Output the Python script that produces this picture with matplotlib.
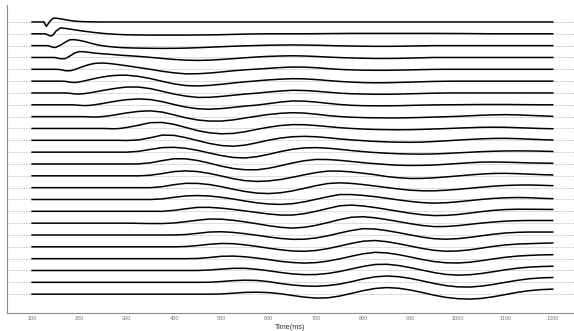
import matplotlib
matplotlib.use("Agg")
import matplotlib.pyplot as plt
import numpy as np

plt.rcParams['font.family'] = ['Liberation Sans', 'DejaVu Sans']

# sample times (ms), finer at the start where the top traces change fast
time_ms = [100, 110, 120, 125, 130, 135, 140, 145, 150, 160, 170, 180,
           190, 200, 210, 220, 230, 240, 250, 260, 270, 280, 290, 300,
           325, 350, 375, 400, 425, 450, 475, 500, 525, 550, 575, 600,
           625, 650, 675, 700, 725, 750, 775, 800, 825, 850, 875, 900,
           925, 950, 975, 1000, 1025, 1050, 1075, 1100, 1125, 1150, 1175, 1200]

# one trace per channel, top to bottom (amplitude, arbitrary units)
ch01 = [0, 0, 0, 0, -4.5, -1.2, 2.0, 3.8, 3.9, 3.2, 2.3, 1.5,
        0.8, 0.5, 0.3, 0.2, 0.1, 0, 0, 0, 0, 0, 0, 0,
        0, 0, 0, 0, 0, 0, 0, 0, 0, 0, 0, 0,
        0, 0, 0, 0, 0, 0, 0, 0, 0, 0, 0, 0,
        0, 0, 0, 0, 0, 0, 0, 0, 0, 0, 0, 0]
ch02 = [0, 0, 0, 0, -0.3, -1.5, -2.3, -0.8, 2.5, 6.0, 5.5, 4.8,
        4.0, 3.3, 2.6, 2.0, 1.4, 0.9, 0.4, 0.0, -0.3, -0.6, -0.8, -1.0,
        -1.2, -1.3, -1.3, -1.3, -1.3, -1.2, -1.1, -0.9, -0.6, -0.3, -0.1, 0,
        0, 0, 0, 0.1, 0.2, 0.3, 0.4, 0.4, 0.4, 0.4, 0.4, 0.4,
        0.4, 0.4, 0.3, 0.3, 0.2, 0.1, 0, 0, 0, 0, 0, 0]
ch03 = [0, 0, 0, 0, 0, -0.2, -1.0, -1.8, -1.8, 0.5, 3.5, 6.0,
        6.0, 5.3, 4.3, 3.0, 1.7, 0.6, -0.2, -0.8, -1.3, -1.7, -2.0, -2.2,
        -2.5, -2.7, -2.8, -2.7, -2.5, -2.1, -1.6, -1.1, -0.6, -0.2, 0.1, 0.4,
        0.6, 0.7, 0.6, 0.4, 0.1, -0.2, -0.4, -0.6, -0.7, -0.7, -0.6, -0.4,
        -0.2, 0, 0, 0, 0, 0, 0, 0, 0, 0, 0, 0]
ch04 = [0, 0, 0, 0, 0, 0, 0, 0, -0.2, -1.3, -1.2, 1.5,
        4.5, 6.0, 5.8, 5.2, 4.6, 4.1, 3.7, 3.4, 3.0, 2.6, 2.2, 1.9,
        1.1, 0.1, -1.0, -2.0, -2.7, -3.0, -2.7, -2.0, -1.2, -0.3, 0.5, 1.1,
        1.5, 1.7, 1.5, 1.0, 0.4, -0.1, -0.5, -0.8, -1.0, -1.0, -0.9, -0.6,
        -0.3, 0, 0, 0, 0, 0, 0, 0, 0, 0, 0, 0]
ch05 = [0, 0, 0, 0, 0, 0, 0, 0, 0, -0.3, -1.4, -1.5,
        -0.3, 1.5, 3.2, 4.7, 5.8, 6.3, 6.3, 6.0, 5.5, 4.9, 4.2, 3.6,
        1.8, 0, -2.0, -3.6, -4.6, -4.5, -3.8, -2.7, -1.5, -0.5, 0.2, 1.0,
        1.8, 2.3, 2.2, 1.6, 0.7, -0.1, -0.6, -0.9, -1.0, -1.0, -0.8, -0.6,
        -0.3, -0.1, 0, 0, 0, 0, 0, 0, 0, 0, 0, 0]
ch06 = [0, 0, 0, 0, 0, 0, 0, 0, 0, 0, -0.2, -1.0,
        -1.4, -0.8, 0.2, 1.3, 2.4, 3.4, 4.3, 5.0, 5.6, 5.9, 6.0, 6.0,
        4.8, 2.6, -0.2, -2.8, -4.5, -4.9, -4.3, -3.2, -1.9, -0.7, 0.3, 1.3,
        2.0, 2.5, 2.3, 1.6, 0.6, -0.3, -1.0, -1.5, -1.7, -1.6, -1.3, -1.0,
        -0.6, -0.3, -0.1, 0, 0, 0, 0, 0, 0, 0, 0, 0]
ch07 = [0, 0, 0, 0, 0, 0, 0, 0, 0, 0, 0, -0.3,
        -1.0, -1.1, -0.7, 0, 0.8, 1.7, 2.6, 3.4, 4.2, 4.9, 5.5, 6.0,
        6.0, 4.4, 1.7, -1.1, -3.2, -4.5, -4.4, -3.5, -2.3, -1.1, -0.2, 1.0,
        2.0, 2.7, 2.5, 1.8, 0.8, -0.2, -0.8, -1.1, -1.3, -1.3, -1.1, -0.8,
        -0.5, -0.2, 0, 0, 0, 0, 0, 0, 0, 0, 0, 0]
ch08 = [0, 0, 0, 0, 0, 0, 0, 0, 0, 0, 0, 0,
        -0.1, -0.5, -0.8, -0.6, -0.1, 0.6, 1.4, 2.3, 3.1, 3.9, 4.6, 5.2,
        6.0, 5.3, 3.2, 0.3, -2.3, -4.0, -4.5, -3.8, -2.6, -1.3, -0.3, 1.2,
        2.8, 3.9, 3.7, 2.8, 1.5, 0.3, -0.5, -0.9, -1.0, -1.0, -0.9, -0.6,
        -0.3, -0.1, 0, 0.1, 0.2, 0.3, 0.3, 0.3, 0.2, 0.1, 0, 0]
ch09 = [0, 0, 0, 0, 0, 0, 0, 0, 0, 0, 0, 0,
        0, 0, 0, -0.2, -0.4, -0.3, 0.1, 0.7, 1.4, 2.2, 3.0, 3.8,
        5.3, 5.9, 4.6, 1.8, -1.2, -3.4, -4.5, -4.5, -3.3, -1.4, 0.5, 2.2,
        3.4, 4.0, 3.6, 2.5, 1.1, 0.1, -0.6, -1.0, -1.2, -1.3, -1.3, -1.1,
        -0.8, -0.4, -0.1, 0.3, 0.9, 1.4, 1.8, 2.0, 1.8, 1.3, 0.8, 0.3]
ch10 = [0, 0, 0, 0, 0, 0, 0, 0, 0, 0, 0, 0,
        0, 0, 0, 0, 0, 0, 0, -0.1, -0.3, -0.2, 0.3, 1.0,
        3.3, 5.9, 6.1, 4.2, 1.0, -2.2, -4.4, -5.4, -5.0, -3.3, -0.9, 1.3,
        3.0, 3.9, 3.8, 3.0, 1.9, 0.8, 0, -0.6, -1.0, -1.2, -1.3, -1.2,
        -0.9, -0.5, -0.1, 0.4, 0.8, 1.2, 1.3, 1.2, 0.8, 0.4, 0, -0.3]
ch11 = [0, 0, 0, 0, 0, 0, 0, 0, 0, 0, 0, 0,
        0, 0, 0, 0, 0, 0, 0, 0, 0, 0, -0.1, -0.2,
        0.4, 2.6, 5.3, 5.0, 2.7, -0.3, -3.2, -5.3, -6.0, -4.9, -2.5, 0.2,
        2.3, 3.6, 4.0, 3.6, 2.6, 1.4, 0.4, -0.4, -1.1, -1.6, -1.9, -2.0,
        -1.8, -1.2, -0.5, 0.2, 0.9, 1.5, 1.9, 2.0, 1.7, 1.2, 0.7, 0.3]
ch12 = [0, 0, 0, 0, 0, 0, 0, 0, 0, 0, 0, 0,
        0, 0, 0, 0, 0, 0, 0, 0, 0, 0, 0, 0,
        0.8, 2.8, 4.6, 4.9, 3.9, 1.8, -0.9, -3.5, -5.4, -5.9, -4.6, -2.2,
        0.6, 2.9, 4.3, 4.6, 4.0, 2.9, 1.6, 0.5, -0.4, -1.1, -1.6, -1.9,
        -2.0, -1.8, -1.3, -0.7, -0.1, 0.5, 0.9, 1.2, 1.3, 1.2, 1.0, 0.7]
ch13 = [0, 0, 0, 0, 0, 0, 0, 0, 0, 0, 0, 0,
        0, 0, 0, 0, 0, 0, 0, 0, 0, 0, 0, 0,
        0.1, 1.2, 3.4, 5.3, 5.2, 3.5, 0.8, -2.2, -4.6, -5.8, -5.9, -4.3,
        -1.8, 1.0, 3.3, 4.6, 4.5, 3.7, 2.5, 1.3, 0.3, -0.6, -1.3, -1.5,
        -1.4, -1.0, -0.3, 0.5, 1.3, 1.9, 2.0, 1.8, 1.5, 1.1, 0.9, 0.7]
ch14 = [0, 0, 0, 0, 0, 0, 0, 0, 0, 0, 0, 0,
        0, 0, 0, 0, 0, 0, 0, 0, 0, 0, 0, 0,
        0, 0.6, 2.3, 4.3, 5.0, 4.3, 2.4, -0.2, -2.9, -4.9, -5.7, -5.2,
        -3.7, -1.5, 1.0, 3.3, 4.8, 4.8, 3.9, 2.6, 1.1, -0.8, -2.0, -2.7,
        -2.6, -2.0, -1.1, -0.1, 0.9, 1.8, 2.4, 2.5, 2.2, 1.7, 1.2, 0.8]
ch15 = [0, 0, 0, 0, 0, 0, 0, 0, 0, 0, 0, 0,
        0, 0, 0, 0, 0, 0, 0, 0, 0, 0, 0, 0,
        0, 0, 1.0, 3.0, 4.4, 4.3, 3.1, 1.0, -1.6, -3.9, -5.5, -6.0,
        -5.2, -3.3, -0.7, 2.0, 4.2, 4.9, 4.3, 3.1, 1.6, 0.1, -1.4, -2.6,
        -3.2, -3.2, -2.6, -1.7, -0.6, 0.5, 1.5, 2.2, 2.6, 2.7, 2.4, 2.0]
ch16 = [0, 0, 0, 0, 0, 0, 0, 0, 0, 0, 0, 0,
        0, 0, 0, 0, 0, 0, 0, 0, 0, 0, 0, 0,
        0, 0, 0.6, 2.2, 3.6, 4.0, 3.5, 2.2, 0.5, -1.6, -3.4, -4.6,
        -5.0, -4.3, -2.4, 0.2, 2.8, 5.0, 5.0, 4.1, 2.8, 1.2, -0.5, -2.0,
        -3.2, -3.7, -3.3, -2.3, -1.1, 0.1, 1.1, 1.7, 2.0, 1.8, 1.2, 0.8]
ch17 = [0, 0, 0, 0, 0, 0, 0, 0, 0, 0, 0, 0,
        0, 0, 0, 0, 0, 0, 0, 0, 0, 0, 0, 0,
        0, 0, 0, 1.0, 2.6, 4.0, 4.0, 3.2, 1.9, 0.4, -1.2, -2.7,
        -3.8, -3.8, -2.4, 0, 2.9, 5.6, 6.3, 5.4, 3.8, 1.9, -0.1, -2.0,
        -3.5, -4.3, -4.1, -3.2, -1.8, -0.3, 1.0, 1.8, 2.1, 2.1, 2.0, 1.9]
ch18 = [0, 0, 0, 0, 0, 0, 0, 0, 0, 0, 0, 0,
        0, 0, 0, 0, 0, 0, 0, 0, 0, 0, 0, 0,
        -0.2, -0.4, -0.4, 0.2, 1.5, 3.0, 4.2, 4.0, 2.9, 1.3, -0.6, -2.6,
        -4.2, -5.0, -4.2, -2.2, 0.6, 3.6, 6.0, 6.5, 5.4, 3.6, 1.5, -0.6,
        -2.4, -3.5, -3.4, -2.5, -1.2, 0.1, 1.2, 2.0, 2.5, 2.7, 2.7, 2.7]
ch19 = [0, 0, 0, 0, 0, 0, 0, 0, 0, 0, 0, 0,
        0, 0, 0, 0, 0, 0, 0, 0, 0, 0, 0, 0,
        0, 0, 0, 0, 0.5, 1.7, 3.0, 3.3, 2.6, 1.3, -0.3, -2.0,
        -3.5, -4.4, -4.3, -3.0, -0.8, 2.0, 4.6, 6.4, 6.0, 4.4, 2.3, 0,
        -2.2, -3.8, -4.3, -3.7, -2.4, -0.8, 0.8, 2.0, 2.7, 3.0, 3.0, 3.0]
ch20 = [0, 0, 0, 0, 0, 0, 0, 0, 0, 0, 0, 0,
        0, 0, 0, 0, 0, 0, 0, 0, 0, 0, 0, 0,
        0, 0, 0, 0, 0.3, 1.3, 2.6, 3.4, 3.2, 2.0, 0.4, -1.4,
        -3.0, -4.2, -4.5, -3.7, -1.8, 0.8, 3.5, 5.7, 6.4, 5.2, 3.1, 0.7,
        -1.7, -3.6, -4.5, -4.2, -3.0, -1.3, 0.5, 1.9, 2.8, 3.2, 3.6, 3.9]
ch21 = [0, 0, 0, 0, 0, 0, 0, 0, 0, 0, 0, 0,
        0, 0, 0, 0, 0, 0, 0, 0, 0, 0, 0, 0,
        0, 0, 0, 0, 0, 0.2, 1.2, 2.4, 2.6, 1.9, 0.6, -1.0,
        -2.7, -3.9, -4.5, -4.0, -2.5, -0.2, 2.5, 5.0, 6.4, 5.8, 4.0, 1.6,
        -0.9, -3.0, -4.2, -4.4, -3.6, -2.0, -0.2, 1.4, 2.6, 3.3, 3.8, 4.0]
ch22 = [0, 0, 0, 0, 0, 0, 0, 0, 0, 0, 0, 0,
        0, 0, 0, 0, 0, 0, 0, 0, 0, 0, 0, 0,
        0, 0, 0, 0, 0, 0, 0.5, 1.4, 2.2, 2.2, 1.2, -0.3,
        -2.0, -3.5, -4.2, -4.1, -3.0, -1.0, 1.6, 4.2, 6.1, 6.3, 5.0, 2.8,
        0.3, -2.2, -4.0, -4.7, -4.3, -3.0, -1.2, 0.7, 2.3, 3.4, 4.0, 4.3]
ch23 = [0, 0, 0, 0, 0, 0, 0, 0, 0, 0, 0, 0,
        0, 0, 0, 0, 0, 0, 0, 0, 0, 0, 0, 0,
        0, 0, 0, 0, 0, 0, 0.1, 0.8, 1.7, 2.2, 1.9, 0.7,
        -1.2, -2.7, -3.7, -4.0, -3.3, -1.8, 0.7, 3.5, 5.6, 6.4, 5.7, 3.9,
        1.4, -1.2, -3.4, -4.6, -4.8, -3.8, -2.1, 0, 2.0, 3.6, 4.5, 4.9]
ch24 = [0, 0, 0, 0, 0, 0, 0, 0, 0, 0, 0, 0,
        0, 0, 0, 0, 0, 0, 0, 0, 0, 0, 0, 0,
        0, 0, 0, 0, 0, 0, 0, 0.2, 1.0, 1.8, 2.0, 1.6,
        0.4, -1.3, -3.0, -4.0, -3.7, -1.9, 0.8, 3.6, 5.8, 6.7, 6.0, 4.1,
        1.6, -1.1, -3.3, -4.6, -5.0, -4.3, -2.6, -0.4, 1.8, 3.5, 4.6, 5.1]

channels = [ch01, ch02, ch03, ch04, ch05, ch06, ch07, ch08, ch09, ch10, ch11, ch12,
            ch13, ch14, ch15, ch16, ch17, ch18, ch19, ch20, ch21, ch22, ch23, ch24]

SPACING = 12  # vertical gap between channels

fig = plt.figure(figsize=(5.74, 3.31), dpi=100)
ax = fig.add_axes([7 / 574, 18 / 331, 567 / 574, 308 / 331])

for i, trace in enumerate(channels):
    offset = -SPACING * i
    ax.axhline(offset, color='#b4b4b4', lw=0.6, dashes=(1.6, 1.6), zorder=1)
    ax.plot(time_ms, np.asarray(trace) + offset, color='black', lw=1.1, zorder=2)

ax.set_xlim(47, 1245)
ax.set_ylim(-295.1, 17.2)
ax.set_xticks(range(100, 1201, 100))
ax.set_yticks([])
ax.tick_params(axis='x', length=0, pad=2.5, labelsize=4, labelcolor='#7a7a7a')
for side in ['top', 'right']:
    ax.spines[side].set_visible(False)
for side in ['left', 'bottom']:
    ax.spines[side].set_color('#8c8c8c')
    ax.spines[side].set_linewidth(0.8)
ax.set_xlabel('Time(ms)', fontsize=5.2, color='#333333', labelpad=1.5)

fig.savefig('out.png', dpi=100)
